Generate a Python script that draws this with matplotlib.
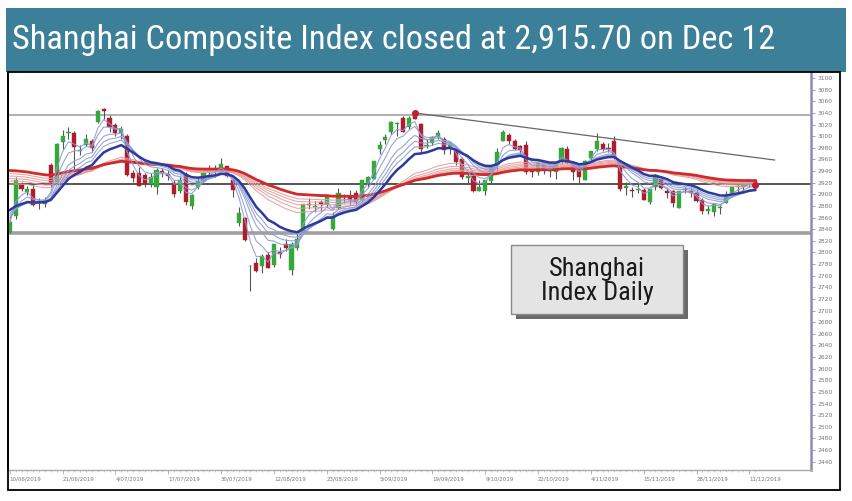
import matplotlib
matplotlib.use("Agg")
import matplotlib.pyplot as plt
from matplotlib.patches import Rectangle
from matplotlib import font_manager
import numpy as np

# ---------------- data ----------------
title = "Shanghai Composite Index closed at 2,915.70 on Dec 12"
box_label = "Shanghai\nIndex Daily"

jun_days = [10, 11, 12, 13, 14, 17, 18, 19, 20, 21, 24, 25, 26, 27, 28]
jul_days = [1, 2, 3, 4, 5, 8, 9, 10, 11, 12, 15, 16, 17, 18, 19, 22, 23, 24, 25, 26, 29, 30, 31]
aug_days = [1, 2, 5, 6, 7, 8, 9, 12, 13, 14, 15, 16, 19, 20, 21, 22, 23, 26, 27, 28, 29, 30]
sep_days = [2, 3, 4, 5, 6, 9, 10, 11, 12, 16, 17, 18, 19, 20, 23, 24, 25, 26, 27, 30]
oct_days = [8, 9, 10, 11, 14, 15, 16, 17, 18, 21, 22, 23, 24, 25, 28, 29, 30, 31]
nov_days = [1, 4, 5, 6, 7, 8, 11, 12, 13, 14, 15, 18, 19, 20, 21, 22, 25, 26, 27, 28, 29]
dec_days = [2, 3, 4, 5, 6, 9, 10, 11, 12]

opens = [2836, 2862, 2916, 2904, 2910, 2885, 2884, 2950, 2922, 2990, 3005, 3006, 2975, 2985, 2992,
         3024, 3046, 3032, 3019, 3006, 3000, 2937, 2937, 2934, 2918, 2913, 2940, 2935, 2920, 2905, 2935, 2880, 2912, 2923, 2938, 2944, 2941, 2948,
         2925, 2850, 2860, 2776, 2782, 2776, 2796, 2779, 2800, 2815, 2770, 2808, 2835, 2883, 2878, 2886, 2882, 2840, 2876, 2894, 2895, 2903,
         2890, 2920, 2927, 2978, 2994, 3008, 3021, 3032, 3016, 3040, 3021, 2983, 2989, 2998, 2995, 2980, 2976, 2960, 2928, 2932,
         2905, 2906, 2923, 2950, 2992, 3002, 2992, 2983, 2985, 2943, 2938, 2950, 2946, 2939, 2955, 2978, 2953, 2943,
         2925, 2963, 2978, 2986, 2980, 2991, 2955, 2911, 2908, 2907, 2908, 2887, 2912, 2926, 2906, 2906, 2877, 2910, 2906, 2902, 2891,
         2872, 2869, 2877, 2885, 2902, 2913, 2912, 2916, 2924]
highs = [2862, 2930, 2921, 2915, 2918, 2894, 2895, 2954, 2988, 3010, 3015, 3009, 2985, 3004, 2996,
         3045, 3048, 3036, 3023, 3017, 3003, 2942, 2947, 2937, 2937, 2945, 2945, 2941, 2924, 2932, 2938, 2900, 2930, 2939, 2951, 2951, 2963, 2949,
         2929, 2878, 2861, 2779, 2791, 2797, 2801, 2815, 2809, 2823, 2818, 2831, 2884, 2893, 2889, 2890, 2898, 2870, 2911, 2901, 2907, 2908,
         2925, 2931, 2958, 2991, 3003, 3026, 3024, 3034, 3034, 3043, 3023, 2995, 3001, 3010, 2999, 2990, 2978, 2964, 2937, 2934,
         2925, 2925, 2949, 2980, 3011, 3005, 2996, 2985, 2992, 2946, 2954, 2952, 2951, 2955, 2982, 2983, 2955, 2945,
         2959, 2975, 3005, 2990, 2988, 3001, 2956, 2922, 2913, 2918, 2911, 2909, 2935, 2927, 2911, 2908, 2906, 2913, 2911, 2907, 2894,
         2881, 2885, 2883, 2906, 2912, 2918, 2918, 2926, 2926]
lows = [2834, 2858, 2905, 2898, 2880, 2874, 2878, 2912, 2919, 2978, 2996, 2944, 2968, 2983, 2972,
        3023, 3030, 3008, 3001, 2996, 2931, 2921, 2914, 2913, 2913, 2901, 2930, 2925, 2896, 2903, 2882, 2874, 2910, 2919, 2931, 2930, 2939, 2929,
        2896, 2846, 2820, 2734, 2766, 2765, 2773, 2775, 2790, 2803, 2762, 2804, 2835, 2875, 2869, 2872, 2879, 2838, 2875, 2885, 2883, 2883,
        2888, 2913, 2926, 2970, 2987, 3004, 3000, 3008, 3012, 3029, 2972, 2980, 2984, 2996, 2969, 2970, 2950, 2926, 2920, 2904,
        2905, 2899, 2920, 2936, 2991, 2987, 2976, 2969, 2935, 2930, 2933, 2935, 2930, 2926, 2953, 2952, 2925, 2919,
        2924, 2955, 2975, 2974, 2973, 2961, 2905, 2899, 2896, 2902, 2891, 2884, 2908, 2909, 2893, 2878, 2877, 2903, 2895, 2886, 2866,
        2866, 2863, 2866, 2885, 2898, 2904, 2902, 2913, 2913]
closes = [2852, 2925, 2909, 2910, 2882, 2887, 2890, 2917, 2987, 3001, 3008, 2982, 2976, 2996, 2979,
          3044, 3043, 3015, 3005, 3012, 2933, 2928, 2915, 2917, 2930, 2942, 2937, 2931, 2901, 2924, 2886, 2899, 2923, 2937, 2944, 2941, 2953, 2932,
          2908, 2868, 2821, 2777, 2768, 2794, 2774, 2815, 2797, 2808, 2815, 2823, 2883, 2881, 2880, 2883, 2897, 2863, 2902, 2893, 2890, 2886,
          2924, 2930, 2957, 2985, 2999, 3024, 3021, 3008, 3031, 3030, 2978, 2985, 2999, 3006, 2977, 2985, 2955, 2929, 2932, 2905,
          2913, 2924, 2947, 2973, 3007, 2991, 2978, 2977, 2938, 2939, 2954, 2941, 2940, 2954, 2980, 2954, 2939, 2929,
          2958, 2975, 2991, 2978, 2978, 2964, 2909, 2914, 2905, 2909, 2891, 2909, 2933, 2911, 2903, 2885, 2906, 2907, 2903, 2889, 2871,
          2875, 2884, 2878, 2899, 2912, 2914, 2917, 2924, 2916]

# Guppy multiple moving averages: periods and starting levels read at the left edge
short_periods = [3, 5, 8, 10, 12, 15]
short_start = [2850, 2856, 2862, 2866, 2870, 2876]
long_periods = [30, 35, 40, 45, 50, 60]
long_start = [2922, 2927, 2931, 2935, 2939, 2944]

# reference lines
h_levels = [3036, 2918, 2834]
trend_x = [69, 130.3]
trend_y = [3040, 2959]

y_ticks = list(range(2440, 3101, 20))
label_every = 9

# ---------------- figure ----------------
W, H = 852, 501
fig = plt.figure(figsize=(W / 100, H / 100), dpi=100)
fig.patch.set_facecolor("white")


def fx(x):
    return x / W


def fy(y):
    return 1 - y / H


installed = {f.name for f in font_manager.fontManager.ttflist}
regular_narrow = [f for f in ["Open Sans Condensed Light", "Roboto Condensed",
                              "Liberation Sans Narrow", "Noto Sans Condensed",
                              "DejaVu Sans Condensed", "Open Sans Condensed"]
                  if f in installed]
cond = regular_narrow[:1] + ["Open Sans", "DejaVu Sans"]

fig.canvas.draw()
renderer = fig.canvas.get_renderer()


def fit_width(txt, target_px):
    bb = txt.get_window_extent(renderer=renderer)
    txt.set_fontsize(txt.get_fontsize() * target_px / bb.width)


# header band
fig.patches.append(Rectangle((fx(6), fy(72)), fx(846) - fx(6), fy(8) - fy(72),
                             transform=fig.transFigure, facecolor="#3b7f98",
                             edgecolor="none", zorder=0))
t_title = fig.text(fx(12), fy(40), title, color="white", fontsize=24, family=cond,
                   fontweight="normal", ha="left", va="center")
fit_width(t_title, 763)

# panel frame
fig.patches.append(Rectangle((fx(8), fy(490)), fx(840) - fx(8), fy(72) - fy(490),
                             transform=fig.transFigure, facecolor="none",
                             edgecolor="black", lw=1.3, zorder=5))

ax = fig.add_axes([fx(8), fy(470), fx(811) - fx(8), fy(72) - fy(470)])
ax.set_facecolor("white")

n = len(closes)
idx = np.arange(n)
o = np.array(opens, float)
h = np.array(highs, float)
l = np.array(lows, float)
c = np.array(closes, float)
up = c >= o
col = np.where(up, "#35a83a", "#b01c2c")

# candles
ax.vlines(idx, l, h, colors="#555555", lw=0.8, zorder=2)
body_b = np.minimum(o, c)
body_h = np.maximum(np.abs(c - o), 1.2)
ax.bar(idx, body_h, bottom=body_b, width=0.7, color=col, edgecolor=col, lw=0.3, zorder=3)


def ema(values, period, start):
    a = 2.0 / (period + 1)
    out = []
    prev = start
    for v in values:
        prev = prev + a * (v - prev)
        out.append(prev)
    return np.array(out)


for p, s in zip(long_periods, long_start):
    e = ema(c, p, s)
    if p == long_periods[-1]:
        ax.plot(idx, e, color="#d12a2a", lw=2.0, zorder=4)
    else:
        ax.plot(idx, e, color="#e3a0a0", lw=0.8, zorder=4, alpha=0.9)

for p, s in zip(short_periods, short_start):
    e = ema(c, p, s)
    if p == short_periods[-1]:
        ax.plot(idx, e, color="#2c3a9e", lw=1.8, zorder=4)
    else:
        ax.plot(idx, e, color="#8e9bd0", lw=0.8, zorder=4, alpha=0.9)

# horizontal levels
ax.axhline(h_levels[0], color="#b0b0b0", lw=1.4, zorder=1)
ax.axhline(h_levels[1], color="#555555", lw=1.4, zorder=1)
ax.axhline(h_levels[2], color="#a0a0a0", lw=2.6, zorder=1)

# trend line
ax.plot(trend_x, trend_y, color="#666666", lw=0.9, zorder=5)
ax.plot([trend_x[0]], [trend_y[0]], "o", ms=4, color="#c02030", zorder=6)
ax.plot([idx[-1]], [c[-1]], "o", ms=4, color="#c02030", zorder=6)

# axes styling
ax.set_xlim(-0.3, 136.5)
ax.set_ylim(2425.8, 3110.4)
ax.yaxis.tick_right()
ax.set_yticks(y_ticks)
ax.set_yticklabels([str(v) for v in y_ticks], fontsize=4.3, color="#777777")
ax.tick_params(axis="y", length=3, width=0.6, color="#8c8cb4", pad=2)

month_days = [(6, jun_days), (7, jul_days), (8, aug_days), (9, sep_days),
              (10, oct_days), (11, nov_days), (12, dec_days)]
date_labels = [f"{d}/{m:02d}/2019" for m, ds in month_days for d in ds]
xt = idx[::label_every]
ax.set_xticks(xt)
ax.set_xticklabels([date_labels[i] for i in xt], fontsize=4, color="#777777", ha="left")
ax.set_xticks(idx, minor=True)
ax.tick_params(axis="x", which="major", length=3, width=0.5, color="#999999", pad=2)
ax.tick_params(axis="x", which="minor", length=1.5, width=0.4, color="#aaaaaa")

ax.spines["top"].set_visible(False)
ax.spines["left"].set_color("black")
ax.spines["left"].set_linewidth(1.3)
ax.spines["right"].set_color("#8c8cb4")
ax.spines["right"].set_linewidth(1.8)
ax.spines["bottom"].set_color("#aaaaaa")
ax.spines["bottom"].set_linewidth(1.0)

# label box with shadow
fig.patches.append(Rectangle((fx(516), fy(319)), fx(688) - fx(516), fy(250) - fy(319),
                             transform=fig.transFigure, facecolor="#6a6a6a",
                             edgecolor="none", zorder=6))
fig.patches.append(Rectangle((fx(511), fy(314)), fx(683) - fx(511), fy(245) - fy(314),
                             transform=fig.transFigure, facecolor="#e4e4e4",
                             edgecolor="#8a8a8a", lw=1, zorder=7))
t_box = fig.text(fx(597), fy(281), box_label, color="#1a1a1a", fontsize=16, family=cond,
                 fontweight="normal", ha="center", va="center", linespacing=1.05, zorder=8)
fit_width(t_box, 113)
if t_box.get_fontsize() > 19:
    t_box.set_fontsize(19)

fig.savefig("out.png", dpi=100)
